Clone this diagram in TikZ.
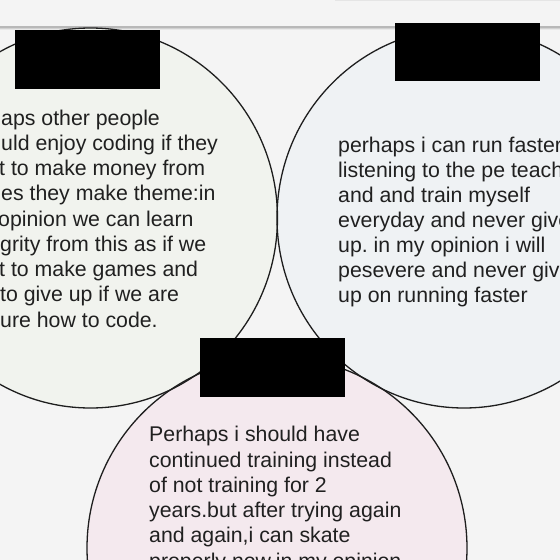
\documentclass[tikz,border=0pt]{standalone}
\usepackage{fontspec}
\setmainfont{Liberation Sans}
\frenchspacing
\definecolor{pagebg}{HTML}{F4F4F4}
\definecolor{barline}{HTML}{B8B8B8}
\definecolor{leftfill}{HTML}{F1F3EE}
\definecolor{rightfill}{HTML}{EFF2F4}
\definecolor{lowfill}{HTML}{F4E9EE}
\definecolor{edge}{HTML}{1E1E1E}
\definecolor{ink}{HTML}{202020}
\begin{document}
\begin{tikzpicture}[x=1pt,y=-1pt,
  txt/.style={anchor=base west,inner sep=0pt,text=ink,font=\fontsize{21.3}{25.3}\selectfont},
  ring/.style={draw=edge,line width=1.3pt},
  redact/.style={fill=black}]
\useasboundingbox (0,0) rectangle (560,560);
\clip (0,0) rectangle (560,560);
\fill[pagebg] (0,0) rectangle (560,560);

% toolbar edge with its soft shadow
\draw[barline,line width=1.2pt] (0,27) -- (560,27);
\draw[black!18,line width=1pt] (0,28.6) -- (560,28.6);
\draw[black!9,line width=1pt] (0,29.8) -- (560,29.8);
\draw[black!10,line width=0.8pt] (335,0.4) -- (560,0.4);

% the three discs: fills first, outlines on top
\fill[leftfill] (90.5,218) ellipse [x radius=187pt, y radius=190pt];
\fill[rightfill] (464,218) ellipse [x radius=187pt, y radius=190pt];
\fill[lowfill] (277,548) ellipse [x radius=190pt, y radius=191pt];
\draw[ring] (90.5,218) ellipse [x radius=187pt, y radius=190pt];
\draw[ring] (464,218) ellipse [x radius=187pt, y radius=190pt];
\draw[ring] (277,548) ellipse [x radius=190pt, y radius=191pt];

% left disc text
\foreach \k/\x/\t in {0/1/{aps other people},
                      1/1/{uld enjoy coding if they},
                      2/-1/{t to make money from},
                      3/1/{es they make theme:in},
                      4/-2/{opinion we can learn},
                      5/0/{grity from this as if we},
                      6/-1/{t to make games and},
                      7/0/{to give up if we are},
                      8/0/{ure how to code.}}
  \node[txt] (left\k) at (\x,125+25.25*\k) {\t};

% right disc text
\foreach \k/\t in {0/{perhaps i can run faster},
                   1/{listening to the pe teacher},
                   2/{and and train myself},
                   3/{everyday and never give},
                   4/{up. in my opinion i will},
                   5/{pesevere and never give},
                   6/{up on running faster}}
  \node[txt] (right\k) at (338,152.7+25*\k) {\t};

% lower disc text
\foreach \k/\t in {0/{Perhaps i should have},
                   1/{continued training instead},
                   2/{of not training for 2},
                   3/{years.but after trying again},
                   4/{and again,i can skate},
                   5/{properly now.in my opinion}}
  \node[txt] (low\k) at (149,441.7+25.3*\k) {\t};

% blacked-out title plates
\fill[redact] (15,30) rectangle (160,89);
\fill[redact] (395,23) rectangle (540,81);
\fill[redact] (200,338) rectangle (345,397);
\end{tikzpicture}
\end{document}
